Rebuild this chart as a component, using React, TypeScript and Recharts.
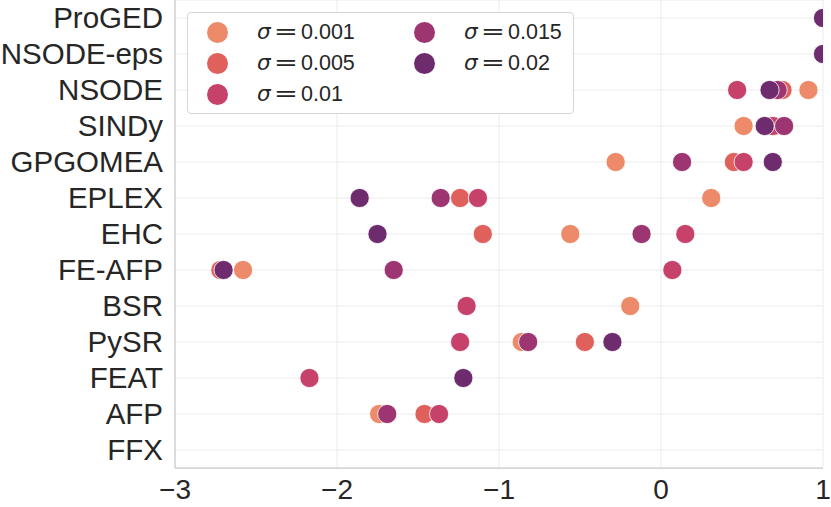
import {
  CartesianGrid,
  Scatter,
  ScatterChart,
  XAxis,
  YAxis,
} from "recharts";

const METHODS = [
  "ProGED",
  "NSODE-eps",
  "NSODE",
  "SINDy",
  "GPGOMEA",
  "EPLEX",
  "EHC",
  "FE-AFP",
  "BSR",
  "PySR",
  "FEAT",
  "AFP",
  "FFX",
];

const SIGMAS = ["0.001", "0.005", "0.01", "0.015", "0.02"];

// one value per method, null where no point is drawn
const SIGMA_001 = [null, null, 0.91, 0.51, -0.28, 0.31, -0.56, -2.58, -0.19, -0.86, null, -1.74, null];
const SIGMA_005 = [null, null, 0.75, 0.7, 0.45, -1.24, -1.1, -2.72, null, -0.47, null, -1.46, null];
const SIGMA_01 = [null, null, 0.47, 0.69, 0.51, -1.13, 0.15, 0.07, -1.2, -1.24, -2.17, -1.37, null];
const SIGMA_015 = [null, null, 0.72, 0.76, 0.13, -1.36, -0.12, -1.65, null, -0.82, null, -1.69, null];
const SIGMA_02 = [1.0, 1.0, 0.67, 0.64, 0.69, -1.86, -1.75, -2.7, null, -0.3, -1.22, null, null];

const SERIES_VALUES = [SIGMA_001, SIGMA_005, SIGMA_01, SIGMA_015, SIGMA_02];

const X_TICKS = [-3, -2, -1, 0, 1];

const COLORS = ["#EC8A6A", "#E0605C", "#C6426A", "#9C3571", "#6E2B6E"];

const FONT = "'Liberation Sans', Arial, sans-serif";
const MATH_FONT = "'DejaVu Sans', sans-serif";
const TEXT = "#262626";

function toPoints(values: (number | null)[]) {
  return values
    .map((v, i) => ({ idx: i, value: v }))
    .filter((p) => p.value !== null);
}

function makeDot(color: string) {
  // eslint-disable-next-line @typescript-eslint/no-explicit-any
  return (props: any) => (
    <circle cx={props.cx} cy={props.cy} r={9.6} fill={color} stroke="#ffffff" strokeWidth={0.8} />
  );
}

// matplotlib-style legend: mathtext sigma, wide equals sign, two columns
function SigmaLegend() {
  return (
    <div
      style={{
        position: "absolute",
        left: 187,
        top: 12,
        width: 385,
        height: 100,
        background: "rgba(255,255,255,0.85)",
        border: "1px solid #d6d6d6",
        borderRadius: 4,
        fontFamily: FONT,
        fontSize: 21.5,
        color: TEXT,
      }}
    >
      {SIGMAS.map((s, i) => {
        const col = Math.floor(i / 3);
        const row = i % 3;
        return (
          <div
            key={s}
            style={{
              position: "absolute",
              left: 19 + col * 207,
              top: 8 + row * 31,
              width: 180,
              height: 22,
              lineHeight: "22px",
              whiteSpace: "nowrap",
            }}
          >
            <div
              style={{
                position: "absolute",
                left: 0,
                top: 0.5,
                width: 21,
                height: 21,
                borderRadius: "50%",
                background: COLORS[i],
              }}
            />
            <span style={{ position: "absolute", left: 50, top: 0, fontFamily: MATH_FONT, fontStyle: "italic" }}>
              σ
            </span>
            <span
              style={{
                position: "absolute",
                left: 68,
                top: 0,
                width: 22,
                textAlign: "center",
                fontFamily: MATH_FONT,
                transform: "scaleX(1.35)",
              }}
            >
              =
            </span>
            <span style={{ position: "absolute", left: 94, top: 0 }}>{s}</span>
          </div>
        );
      })}
    </div>
  );
}

export default function App() {
  return (
    <div style={{ position: "absolute", left: 0, top: 0, width: 831, height: 507, background: "#fff" }}>
      <ScatterChart
        width={831}
        height={507}
        margin={{ top: 0, right: 8, bottom: 0, left: 0 }}
        style={{ fontFamily: FONT }}
      >
        <CartesianGrid stroke="#ebebeb" strokeWidth={1} />
        <XAxis
          type="number"
          dataKey="value"
          domain={[-3, 1]}
          ticks={X_TICKS}
          height={39}
          tickSize={0}
          tickMargin={11}
          axisLine={{ stroke: "#cccccc", strokeWidth: 1.25 }}
          tick={{ fontSize: 28, fill: TEXT }}
          tickFormatter={(v: number) => String(v).replace("-", "\u2212")}
          allowDataOverflow
        />
        <YAxis
          type="number"
          dataKey="idx"
          domain={[-0.5, METHODS.length - 0.5]}
          ticks={METHODS.map((_, i) => i)}
          interval={0}
          reversed
          width={175}
          tickSize={0}
          tickMargin={12}
          axisLine={{ stroke: "#cccccc", strokeWidth: 1.25 }}
          tick={{ fontSize: 29.5, fill: TEXT }}
          tickFormatter={(i: number) => METHODS[i] ?? ""}
        />
        {SERIES_VALUES.map((vals, k) => (
          <Scatter
            key={SIGMAS[k]}
            name={`σ = ${SIGMAS[k]}`}
            data={toPoints(vals)}
            fill={COLORS[k]}
            shape={makeDot(COLORS[k])}
            isAnimationActive={false}
          />
        ))}
      </ScatterChart>
      <SigmaLegend />
    </div>
  );
}
